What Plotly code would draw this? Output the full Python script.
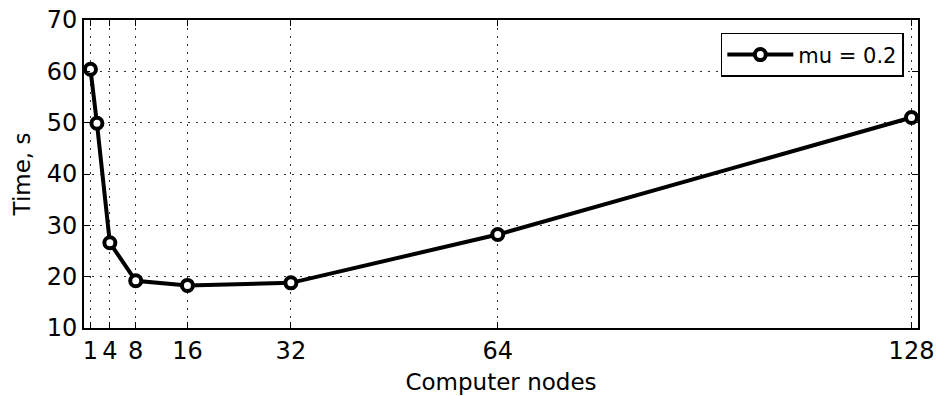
import plotly.graph_objects as go

nodes = [1, 2, 4, 8, 16, 32, 64, 128]
time_s = [60.4, 49.9, 26.6, 19.2, 18.3, 18.8, 28.2, 51.0]
x_ticks = [1, 4, 8, 16, 32, 64, 128]
y_ticks = [10, 20, 30, 40, 50, 60, 70]
series_name = "mu = 0.2"

fig = go.Figure()
fig.add_trace(go.Scatter(
    x=nodes, y=time_s, mode="lines+markers", name=series_name,
    line=dict(color="black", width=4),
    marker=dict(symbol="circle", size=11, color="white",
                line=dict(color="black", width=4)),
    cliponaxis=False,
))

font_family = "DejaVu Sans"
axis_common = dict(
    showline=True, linecolor="black", linewidth=2, mirror="allticks",
    ticks="inside", ticklen=6, tickwidth=1, tickcolor="black",
    showgrid=True, gridcolor="#333333", gridwidth=1, griddash="2px,6px",
    zeroline=False, automargin=False,
    tickfont=dict(family=font_family, size=24, color="black"),
)

fig.update_xaxes(
    range=[0, 129], tickmode="array", tickvals=x_ticks,
    ticktext=[str(v) for v in x_ticks],
    title=dict(text="Computer nodes", font=dict(family=font_family, size=23, color="black"), standoff=10),
    **axis_common,
)
fig.update_yaxes(
    range=[10, 70], tickmode="array", tickvals=y_ticks,
    ticktext=[str(v) for v in y_ticks],
    title=dict(text="Time, s", font=dict(family=font_family, size=23, color="black"), standoff=10),
    **axis_common,
)

fig.update_layout(
    width=939, height=396,
    margin=dict(l=84, r=21, t=20, b=68),
    paper_bgcolor="white", plot_bgcolor="white",
    font=dict(family=font_family, color="black"),
    showlegend=True,
    legend=dict(
        x=0.983, y=0.958, xanchor="right", yanchor="top",
        bgcolor="white", bordercolor="black", borderwidth=1.5,
        font=dict(family=font_family, size=21, color="black"),
        itemwidth=66,
    ),
)

fig.write_html("out.html",
               config={"displayModeBar": False},
               post_script="document.body.style.margin='0';document.body.style.overflow='hidden';")
